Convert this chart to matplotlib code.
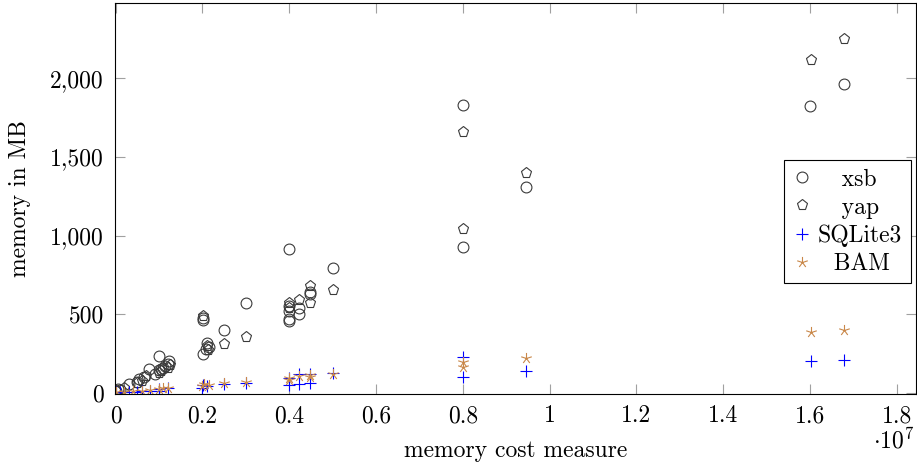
import matplotlib.pyplot as plt
import numpy as np
from matplotlib.path import Path
from matplotlib.ticker import FuncFormatter, MultipleLocator

# data (x = memory cost measure, y = memory in MB)
xsb_x = [0.00e7, 0.005e7, 0.01e7, 0.03e7, 0.05e7, 0.055e7, 0.065e7, 0.076e7, 0.09e7,
         0.10e7, 0.10e7, 0.105e7, 0.11e7, 0.115e7, 0.124e7, 0.12e7,
         0.202e7, 0.202e7, 0.202e7, 0.21e7, 0.208e7, 0.215e7, 0.25e7, 0.30e7,
         0.40e7, 0.40e7, 0.40e7, 0.40e7, 0.40e7, 0.423e7, 0.423e7, 0.448e7, 0.448e7,
         0.50e7, 0.80e7, 0.80e7, 0.945e7, 1.60e7, 1.678e7]
xsb_y = [15, 25, 20, 57, 70, 89, 100, 152, 120,
         234, 145, 152, 160, 170, 203, 185,
         475, 465, 247, 320, 280, 290, 400, 570,
         915, 551, 519, 468, 460, 538, 500, 627, 640,
         797, 1830, 928, 1308, 1825, 1965]

yap_x = [0.00e7, 0.02e7, 0.05e7, 0.06e7, 0.07e7, 0.10e7, 0.105e7, 0.12e7, 0.125e7,
         0.202e7, 0.21e7, 0.212e7, 0.25e7, 0.30e7, 0.40e7, 0.40e7, 0.423e7,
         0.448e7, 0.448e7, 0.50e7, 0.80e7, 0.80e7, 0.945e7, 1.602e7, 1.678e7]
yap_y = [10, 30, 60, 75, 105, 125, 140, 160, 175,
         487, 300, 270, 310, 355, 570, 540, 589,
         677, 570, 652, 1658, 1045, 1399, 2120, 2253]

sql_x = [0.00e7, 0.01e7, 0.03e7, 0.05e7, 0.06e7, 0.08e7, 0.10e7, 0.10e7, 0.12e7,
         0.20e7, 0.202e7, 0.21e7, 0.25e7, 0.30e7, 0.40e7, 0.40e7, 0.423e7, 0.423e7,
         0.448e7, 0.448e7, 0.50e7, 0.80e7, 0.80e7, 0.945e7, 1.602e7, 1.678e7]
sql_y = [3, 5, 5, 8, 10, 12, 10, 25, 30,
         30, 50, 45, 55, 65, 50, 95, 120, 55,
         120, 63, 127, 228, 101, 139, 202, 209]

bam_x = [0.00e7, 0.02e7, 0.04e7, 0.06e7, 0.08e7, 0.10e7, 0.11e7, 0.12e7,
         0.20e7, 0.205e7, 0.215e7, 0.25e7, 0.30e7, 0.40e7, 0.40e7, 0.423e7,
         0.448e7, 0.448e7, 0.50e7, 0.80e7, 0.80e7, 0.945e7, 1.602e7, 1.678e7]
bam_y = [5, 8, 12, 15, 18, 25, 28, 32,
         45, 55, 52, 62, 70, 95, 85, 108,
         114, 100, 120, 196, 164, 222, 386, 399]

labels = ['xsb', 'yap', 'SQLite3', 'BAM']
# leading spaces to centre the legend text like pgfplots does
legend_pad = ['   ', '   ', '', '  ']

plt.rcParams['font.family'] = 'cmr10'
plt.rcParams['mathtext.fontset'] = 'cm'
plt.rcParams['axes.formatter.use_mathtext'] = True
FS = 17

# pgfplots "star": five spokes from the centre
ang = np.deg2rad(90 + 72 * np.arange(5))
verts, codes = [], []
for a in ang:
    verts += [(0, 0), (np.cos(a), np.sin(a))]
    codes += [Path.MOVETO, Path.LINETO]
star = Path(verts, codes)

fig = plt.figure(figsize=(9.17, 4.66), dpi=100)
ax = fig.add_axes([115 / 917, 72 / 466, 801 / 917, 391 / 466])

ax.plot(xsb_x, xsb_y, ls='none', marker='o', ms=7.8, mfc='none', mec='#3a3a3a', mew=0.8,
        label=legend_pad[0] + labels[0])
ax.plot(yap_x, yap_y, ls='none', marker='p', ms=8.0, mfc='none', mec='#3a3a3a', mew=0.8,
        label=legend_pad[1] + labels[1])
ax.plot(sql_x, sql_y, ls='none', marker='+', ms=8.5, mec='#0000ff', mew=0.8,
        label=legend_pad[2] + labels[2])
ax.plot(bam_x, bam_y, ls='none', marker=star, ms=8.0, mfc='none', mec='#c9884a', mew=0.8,
        label=legend_pad[3] + labels[3])

ax.set_xlim(-0.0012e7, 1.8445e7)
ax.set_ylim(-7, 2480)
ax.xaxis.set_major_locator(MultipleLocator(0.2e7))
ax.yaxis.set_major_locator(MultipleLocator(500))
ax.xaxis.set_major_formatter(FuncFormatter(lambda v, p: f'{v / 1e7:g}'))
ax.yaxis.set_major_formatter(FuncFormatter(lambda v, p: f'{v:,.0f}'))

ax.tick_params(direction='in', length=7.5, width=0.8, color='#a0a0a0',
               top=True, right=True, labelsize=FS, pad=8)
for s in ax.spines.values():
    s.set_linewidth(0.8)
    s.set_color('black')

ax.set_xlabel('memory cost measure', fontsize=FS, labelpad=9)
ax.set_ylabel('memory in MB', fontsize=FS, labelpad=14)
ax.text(0.998, -0.12, r'$\cdot 10^{7}$', transform=ax.transAxes, ha='right',
        va='center', fontsize=FS)

leg = ax.legend(loc='upper left', bbox_to_anchor=(0.835, 0.598), borderaxespad=0,
                fontsize=FS, fancybox=False, framealpha=1, edgecolor='black',
                handlelength=0.8, handletextpad=0.3, labelspacing=0.25,
                borderpad=0.35)
leg.get_frame().set_linewidth(0.8)

fig.savefig('out.png', dpi=100)
